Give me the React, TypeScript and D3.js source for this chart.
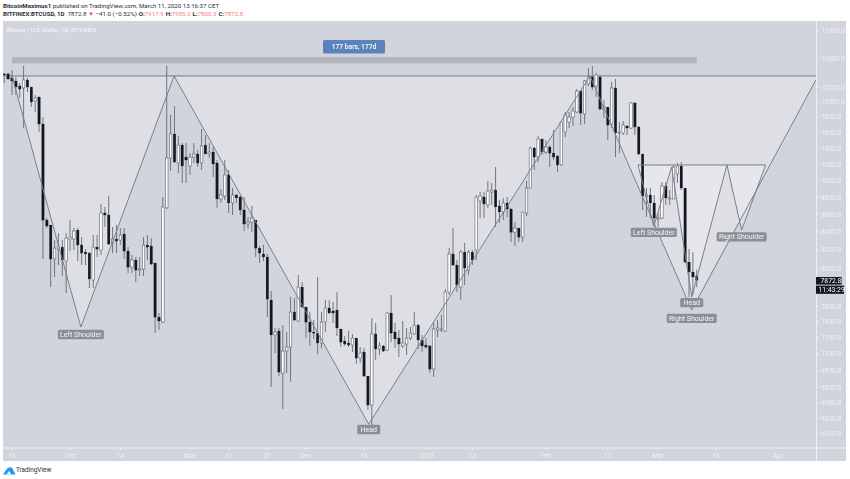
import React from "react";
import * as d3 from "d3";

const FIRST_DAY = -2;
const opens = [10384,10384,10328,10286,10217,10190,10300,10203,10014,10068,9709,8535,8478,8100,8209,8231,8078,8320,8320,8421,8254,8176,8165,7875,8231,8198,8616,8593,8276,8320,8309,8376,8187,8013,8089,7981,7992,8254,8243,8057,7493,7443,8675,9276,9580,9214,9439,9288,9177,9288,9326,9214,9439,9326,9351,9214,8780,8815,9068,8733,8827,8803,8651,8490,8512,8535,8220,8155,8122,7666,7315,7354,6951,7159,7198,7544,7453,7801,7595,7443,7344,7334,7237,7443,7585,7554,7564,7374,7256,7237,7217,7285,7092,7150,6923,6659,7325,7179,7208,7169,7534,7344,7285,7208,7227,7285,7325,7413,7266,7217,7208,6988,7364,7364,7354,7749,8155,8035,7801,8176,7981,8176,8198,8756,8803,8710,8862,8886,8698,8628,8733,8663,8398,8444,8342,8616,8910,9401,9288,9516,9351,9414,9338,9301,9190,9605,9735,9800,9867,10148,9840,10245,10342,10217,10342,9906,9933,9709,10190,9593,9593,9683,9657,9987,9670,9326,8803,8827,8733,8547,8558,8934,8780,8780,9080,9177,8910,8067,7960,7917.9];
const highs = [10398,10398,10439,10342,10258,10498,10328,10203,10095,10068,9800,8558,8478,8309,8387,8309,8387,8535,8444,8444,8342,8209,8176,8365,8365,8721,8686,8815,8455,8478,8444,8444,8231,8144,8122,8122,8342,8365,8331,8057,7534,8803,10498,9827,9946,9554,9465,9465,9338,9465,9376,9644,9567,9465,9414,9251,8898,9251,9128,8910,8839,8815,8803,8570,8698,8535,8243,8254,8155,7760,7384,7384,7413,7344,7697,7687,7928,7854,7595,7544,7463,7907,7544,7666,7666,7646,7749,7374,7305,7354,7325,7285,7198,7188,6923,7483,7433,7246,7217,7544,7718,7433,7364,7453,7384,7394,7544,7423,7315,7285,7217,7433,7463,7514,7780,8220,8444,8089,8198,8276,8198,8198,8827,8862,8862,8994,8970,9165,8768,8792,8803,8663,8512,8444,8628,8994,9414,9414,9554,9516,9503,9439,9631,9313,9735,9867,9867,9933,10176,10162,10300,10470,10498,10398,10370,10027,9933,10272,10314,9735,9748,9696,10000,10000,9683,9326,8910,8910,8827,8616,8982,8982,8886,9190,9214,9226,8910,8209,8176,7985];
const lows = [10258,10300,10095,10095,10054,9657,10135,9933,9867,9605,8100,8444,7801,7907,8035,7917,7739,8187,8198,8078,8035,8035,7791,7791,8122,8144,8455,8254,8165,8165,8254,8100,7949,7949,7854,7917,7917,8089,8035,7334,7364,7433,8663,9116,9214,9092,8970,8970,9068,9214,9165,9128,9326,9276,9044,8675,8733,8768,8616,8593,8733,8593,8410,8432,8398,8122,8057,8078,7493,6822,7140,6923,6623,6951,6868,7453,7443,7585,7285,7208,7276,7131,7188,7344,7524,7433,7305,7198,7208,7198,7150,7035,7045,6914,6614,6474,7073,7121,7150,7159,7246,7188,7102,7188,7121,7266,7315,7179,7150,7179,6951,6914,7295,7344,7344,7718,8024,7749,7666,7822,7928,8035,8089,8558,8558,8675,8710,8455,8501,8535,8570,8287,8243,8287,8287,8582,8910,9128,9226,9313,9326,9165,9251,9104,9177,9541,9657,9683,9853,9696,9709,10217,10162,10068,9893,9787,9503,9657,9288,9338,9567,9567,9644,9567,9313,8651,8570,8558,8455,8455,8547,8710,8710,8780,8970,8886,8057,7697,7718,7800.3];
const closes = [10370,10314,10286,10203,10176,10300,10203,10000,10054,9709,8535,8467,8100,8220,8243,8089,8331,8342,8410,8254,8165,8155,7886,8231,8209,8616,8593,8265,8320,8298,8365,8187,8013,8089,7981,7992,8254,8231,8046,7493,7453,8686,9276,9580,9226,9439,9177,9251,9288,9326,9214,9427,9326,9351,9202,8780,8827,9068,8733,8827,8792,8651,8490,8512,8558,8220,8165,8122,7676,7315,7344,6960,7159,7198,7544,7463,7801,7595,7443,7344,7334,7237,7443,7585,7534,7534,7384,7246,7227,7217,7285,7092,7140,6923,6659,7325,7179,7208,7159,7534,7334,7276,7227,7237,7285,7334,7413,7266,7208,7198,6988,7374,7384,7374,7749,8155,8035,7822,8176,8003,8176,8089,8803,8815,8721,8874,8886,8686,8628,8733,8663,8398,8444,8342,8628,8910,9401,9288,9516,9351,9414,9338,9288,9190,9735,9827,9800,9880,10148,9853,10286,10342,10203,10370,9906,9933,9696,10190,9593,9605,9696,9657,9987,9670,9326,8815,8827,8733,8558,8558,8934,8792,8792,9165,9177,8910,8067,7960,7907,7872.8];

const NECK_PRICE = 10356;
const axisPrices = [11000,10600,10200,10000,9800,9600,9400,9200,9000,8800,8600,8400,8200,8000,7600,7450,7290,7130,6970,6820,6680,6540,6410];
const timeDays = [0,15,28,46,56,66,76,91,107,119,138,154,167,182,198];
const timeLabels = ["16","Oct","14","Nov","11","21","Dec","16","2020","13","Feb","17","Mar","16","Apr"];

const bigDays = [0,17.8,41.9,92.2,149.4,175.7,207.8];
const bigPrices = [NECK_PRICE,7394,NECK_PRICE,6490,NECK_PRICE,7564,10300];
const smallDays = [161.8,165.9,170.5,175.7,184.8,188.6,194.8];
const smallPrices = [9190,8467,9165,7697,9190,8421,9190];

const BG = "#d1d4dc";
const AX = "#eef0f4";
const INK = "#131722";
const LINE = "#7b7e88";
const FONT = "Roboto, 'Open Sans', sans-serif";

const x = d3.scaleLinear().domain([0, 198]).range([12, 778]);
const y = d3.scaleLog().domain([6410, 11000]).range([433.4, 31]);

const pts = (ds: number[], ps: number[]) => ds.map((d, i) => [x(d), y(ps[i])] as [number, number]);
const line = d3.line();

const tags = [
  { text: "Left Shoulder", day: 17.8, price: 7320, w: 46 },
  { text: "Head", day: 92.2, price: 6443, w: 23 },
  { text: "Left Shoulder", day: 165.9, price: 8395, w: 46 },
  { text: "Right Shoulder", day: 188.6, price: 8345, w: 50 },
  { text: "Head", day: 175.7, price: 7640, w: 23 },
  { text: "Right Shoulder", day: 175.7, price: 7480, w: 50 },
];

function triangles(ds: number[], ps: number[]) {
  const p = pts(ds, ps);
  const neck = y(ps[0]);
  const out: string[] = [];
  for (let i = 0; i + 2 < p.length; i += 2) {
    const end: [number, number] = i + 2 === p.length - 1 ? [p[i + 2][0], neck] : p[i + 2];
    out.push(line([p[i], p[i + 1], p[i + 2], end, [p[i][0], neck]]) + "Z");
  }
  return out;
}

export default function App() {
  const plotRight = 816.5;
  const plotBottom = 448;
  return (
    <svg width={850} height={479} style={{ position: "absolute", left: 0, top: 0 }} fontFamily={FONT}>
      <defs>
        <filter id="soft" x="0" y="0" width="100%" height="100%">
          <feGaussianBlur stdDeviation="0.35" />
        </filter>
        <clipPath id="plot"><rect x={3} y={21} width={813.5} height={427} /></clipPath>
      </defs>
      <rect width={850} height={479} fill="#fff" />
      <text x={3} y={8} fontSize={6.15} fill="#2a2e39">
        <tspan fontWeight={700}>BitcoinMaximus1</tspan> published on TradingView.com, March 11, 2020 13:16:37 CET
      </text>
      <text x={3} y={16.3} fontSize={6.15} fill="#2a2e39">
        <tspan fontWeight={700}>BITFINEX:BTCUSD, 1D</tspan>
        <tspan dx={3}>7872.8</tspan>
        <tspan dx={1.5} fill="#ef5350">▼</tspan>
        <tspan dx={1.5}>−41.0 (−0.52%)</tspan>
        <tspan dx={2} fontWeight={700}>O:</tspan><tspan fill="#f77c80">7917.9</tspan>
        <tspan dx={2} fontWeight={700}>H:</tspan><tspan fill="#f77c80">7985.0</tspan>
        <tspan dx={2} fontWeight={700}>L:</tspan><tspan fill="#f77c80">7800.3</tspan>
        <tspan dx={2} fontWeight={700}>C:</tspan><tspan fill="#f77c80">7872.8</tspan>
      </text>

      <rect x={3} y={21} width={843} height={440} fill={BG} />
      <g filter="url(#soft)">
        <g clipPath="url(#plot)">
          {triangles(bigDays, bigPrices).map((d, i) => <path key={i} d={d} fill="#fff" fillOpacity={0.26} />)}
          {triangles(smallDays, smallPrices).map((d, i) => <path key={i} d={d} fill="#fff" fillOpacity={0.26} />)}
          <rect x={x(0)} y={57} width={x(177) - x(0)} height={6.5} fill="#8f929c" fillOpacity={0.45} />
          <line x1={3} x2={plotRight} y1={y(NECK_PRICE)} y2={y(NECK_PRICE)} stroke="#6f727c" strokeWidth={0.9} />
          {opens.map((o, i) => {
            const cx = x(FIRST_DAY + i);
            const up = closes[i] >= o;
            const top = y(Math.max(o, closes[i]));
            const bottom = y(Math.min(o, closes[i]));
            return (
              <g key={i}>
                <line x1={cx} x2={cx} y1={y(highs[i])} y2={y(lows[i])} stroke="#666974" strokeWidth={0.9} />
                <rect x={cx - 1.25} y={top} width={2.5} height={Math.max(bottom - top, 0.8)}
                  fill={up ? "#fff" : INK} stroke={up ? "#5d606a" : INK} strokeWidth={up ? 0.6 : 0.2} />
              </g>
            );
          })}
          <path d={line(pts(bigDays, bigPrices)) ?? ""} fill="none" stroke={LINE} strokeWidth={1} />
          <path d={line(pts(smallDays, smallPrices)) ?? ""} fill="none" stroke={LINE} strokeWidth={1} />
          <line x1={x(smallDays[0])} x2={x(smallDays[6])} y1={y(9190)} y2={y(9190)} stroke={LINE} strokeWidth={1} />
        </g>

        <rect x={323} y={40} width={62} height={13.5} rx={1.5} fill="#5b82bc" />
        <text x={354} y={49.3} fontSize={6.7} fontWeight={500} fill="#fff" textAnchor="middle">177 bars, 177d</text>
        <text x={7} y={31.5} fontSize={5.9} fontWeight={700} fill={AX}>Bitcoin / U.S. Dollar, 1D, BITFINEX</text>

        {tags.map((t, i) => {
          const cx = x(t.day);
          const cy = y(t.price);
          return (
            <g key={i}>
              <rect x={cx - t.w / 2} y={cy - 4.7} width={t.w} height={9.4} rx={1.5} fill="#8b8e97" />
              <text x={cx} y={cy + 2.4} fontSize={7} fill="#f4f5f7" textAnchor="middle">{t.text}</text>
            </g>
          );
        })}

        <line x1={plotRight} x2={plotRight} y1={21} y2={461} stroke={AX} strokeWidth={1} />
        <line x1={3} x2={846} y1={plotBottom} y2={plotBottom} stroke={AX} strokeWidth={1} />
        {axisPrices.map((p) => (
          <g key={p}>
            <line x1={plotRight} x2={plotRight + 2.5} y1={y(p)} y2={y(p)} stroke={AX} />
            <text x={821} y={y(p) + 2.4} fontSize={6.6} fill={AX}>{p.toFixed(1)}</text>
          </g>
        ))}
        {timeDays.map((d, i) => (
          <g key={i}>
            <line x1={x(d)} x2={x(d)} y1={plotBottom} y2={plotBottom + 1.8} stroke={AX} />
            <text x={x(d)} y={457.5} fontSize={6.6} fill={AX} textAnchor="middle">{timeLabels[i]}</text>
          </g>
        ))}
        <rect x={816} y={277} width={25.5} height={7.6} fill={INK} />
        <text x={820.5} y={283} fontSize={6.8} fill="#fff">7872.8</text>
        <rect x={816} y={285.6} width={28} height={8.2} fill={INK} />
        <text x={818.5} y={292} fontSize={6.8} fill="#fff">11:43:29</text>
      </g>

      <path d="M3 474.5 L6 470 Q7 468 9 467.5 Q11 466.5 12.5 468.5 L15.5 474.5 Z" fill="#2196f3" />
      <path d="M6.5 474.5 L9 471 L11.5 474.5 Z" fill="#fff" />
      <text x={16} y={472.4} fontSize={6.4} fill="#2a2e39">TradingView</text>
    </svg>
  );
}
